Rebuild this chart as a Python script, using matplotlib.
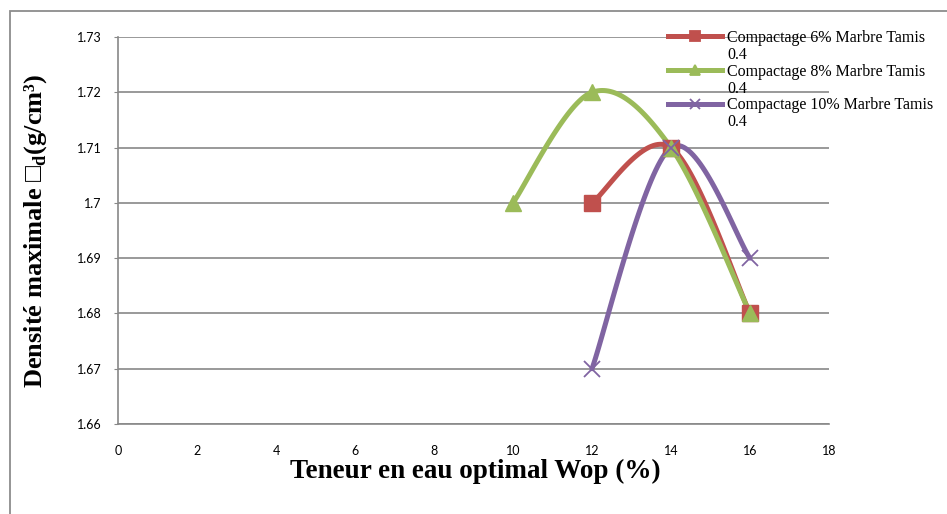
import numpy as np
import matplotlib
matplotlib.use("Agg")
import matplotlib.pyplot as plt
from matplotlib.patches import Rectangle

# data
wop_6 = [12, 14, 16]
dens_6 = [1.70, 1.71, 1.68]
wop_8 = [10, 12, 14, 16]
dens_8 = [1.70, 1.72, 1.71, 1.68]
wop_10 = [12, 14, 16]
dens_10 = [1.67, 1.71, 1.69]

labels = ["Compactage 6% Marbre Tamis",
          "Compactage 8% Marbre Tamis",
          "Compactage 10% Marbre Tamis"]
label_tail = "0.4"   # second line of every legend entry
x_ticks = list(range(0, 19, 2))
y_ticks = [1.66, 1.67, 1.68, 1.69, 1.70, 1.71, 1.72, 1.73]
y_tick_labels = ["1.66", "1.67", "1.68", "1.69", "1.7", "1.71", "1.72", "1.73"]


def smooth(xs, ys, n=40):
    """Excel-like smoothed line (Catmull-Rom through the points)."""
    p = np.column_stack([xs, ys]).astype(float)
    pts = np.vstack([p[0], p, p[-1]])
    out = []
    t = np.linspace(0, 1, n)[:, None]
    for i in range(1, len(pts) - 2):
        p0, p1, p2, p3 = pts[i - 1], pts[i], pts[i + 1], pts[i + 2]
        c1 = p1 + (p2 - p0) / 6
        c2 = p2 - (p3 - p1) / 6
        seg = ((1 - t) ** 3) * p1 + 3 * ((1 - t) ** 2) * t * c1 \
            + 3 * (1 - t) * t ** 2 * c2 + t ** 3 * p2
        out.append(seg if i == 1 else seg[1:])
    s = np.vstack(out)
    return s[:, 0], s[:, 1]


W, H = 947, 514
fig = plt.figure(figsize=(W / 100, H / 100), dpi=100)
ax = fig.add_axes([118 / W, 1 - 424 / H, 711 / W, 387 / H])

# outer chart frame
fig.patches.append(Rectangle((10 / W, -0.1), 1.2, 1 - 11 / H + 0.1,
                             transform=fig.transFigure, fill=False,
                             edgecolor="#8c8c8c", linewidth=1.3))

series = [
    (wop_6, dens_6, "#C0504D", "s", 11, 1),
    (wop_8, dens_8, "#9BBB59", "^", 11, 1),
    (wop_10, dens_10, "#8064A2", "x", 12, 1.3),
]
handles = []
for (xs, ys, col, mk, ms, mew), lab in zip(series, labels):
    sx, sy = smooth(xs, ys)
    ax.plot(sx, sy, color=col, lw=3.6, solid_capstyle="round", zorder=3)
    ax.plot(xs, ys, ls="none", marker=mk, ms=ms, color=col, mec=col,
            mew=mew, zorder=4)
    h, = ax.plot([], [], color=col, lw=3.6, marker=mk, ms=7, mew=1.3,
                 label=lab)
    handles.append(h)

ax.set_xlim(0, 18)
ax.set_ylim(1.66, 1.73)
ax.set_xticks(x_ticks)
ax.set_yticks(y_ticks)
ax.set_yticklabels(y_tick_labels)
ax.grid(axis="y", color="#888888", lw=1.2)
ax.set_axisbelow(True)
for s in ["top", "right"]:
    ax.spines[s].set_visible(False)
for s in ["left", "bottom"]:
    ax.spines[s].set_color("#888888")
    ax.spines[s].set_linewidth(1.2)
ax.tick_params(axis="x", length=0, pad=15, labelsize=9)
ax.tick_params(axis="y", length=3, color="#888888", pad=9, labelsize=9)
for lbl in ax.get_xticklabels() + ax.get_yticklabels():
    lbl.set_family("Lato")

ax.set_xlabel("Teneur en eau optimal Wop (%)", family="Liberation Serif",
              fontweight="bold", fontsize=19.5)
ax.xaxis.set_label_coords(0.502, -0.09)
ax.set_ylabel("Densité maximale □$_\\mathregular{d}$(g/cm³)",
              family=["Liberation Serif", "DejaVu Serif"],
              fontweight="bold", fontsize=19)
ax.yaxis.set_label_coords(-0.097, 0.5)

leg = ax.legend(handles=handles, loc="upper left",
                bbox_to_anchor=(668 / W, 1 - 30 / H),
                bbox_transform=fig.transFigure, frameon=False,
                prop={"family": "Liberation Serif", "size": 11.5},
                handlelength=3.4, handletextpad=0.3, labelspacing=1.1,
                borderpad=0, borderaxespad=0)

# wrapped second line of each legend label
fig.canvas.draw()
for t in leg.get_texts():
    bb = t.get_window_extent()
    fig.text(bb.x0 / W, (bb.y0 - 17) / H, label_tail,
             family="Liberation Serif", fontsize=11.5, va="bottom", ha="left")

fig.savefig("out.png", dpi=100)
